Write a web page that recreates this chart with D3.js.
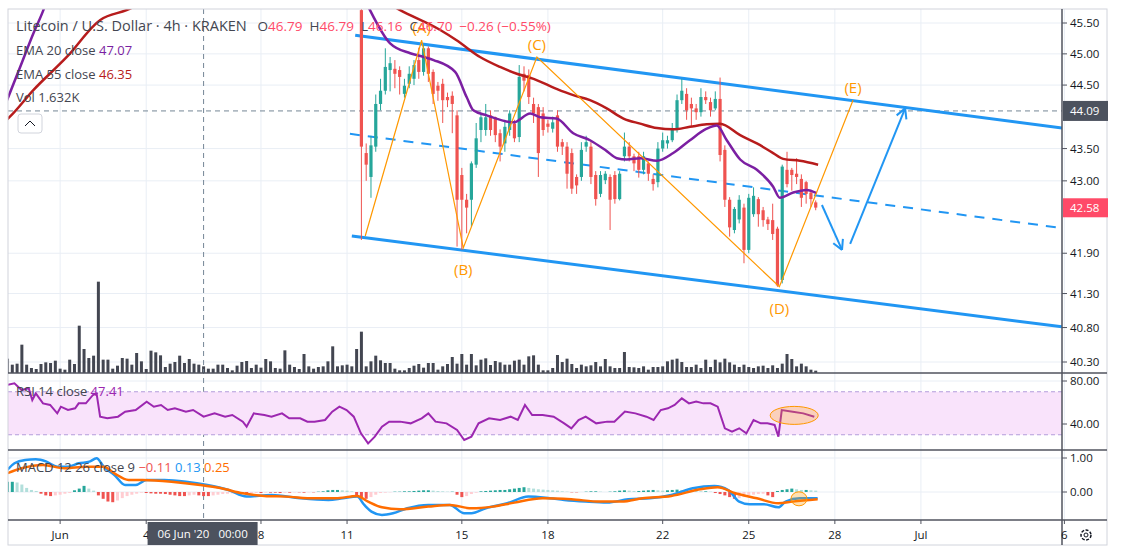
<!DOCTYPE html>
<html><head><meta charset="utf-8">
<script src="https://cdn.jsdelivr.net/npm/d3@7"></script>
<style>body{margin:0;background:#fff;font-family:"Open Sans","DejaVu Sans",sans-serif}</style>
</head><body><svg id="c" width="1121" height="558"></svg>
<script>
// ---- DATA (bar index = number of 4h bars since 1 Jun 2020 00:00) ----
const candleStart = 63;
const opens  = [45.71,43.43,43.06,43.53,44.20,44.41,44.74,44.76,44.74,44.36,44.52,44.60,44.90,44.71,45.09,44.71,44.49,44.52,44.31,44.33,44.02,43.09,42.71,42.71,43.25,43.79,43.79,44.02,43.99,43.74,43.58,43.79,43.89,43.68,44.68,44.66,44.20,44.15,44.05,43.89,43.81,44.02,43.60,43.53,43.43,43.06,43.06,43.53,43.53,43.09,42.80,43.01,43.06,43.09,42.72,43.38,43.53,43.38,43.38,43.17,43.27,43.03,42.98,43.50,43.58,43.63,43.79,44.26,44.36,44.20,44.13,44.07,44.31,44.23,44.13,44.28,43.48,42.71,42.25,42.41,42.59,41.95,42.49,42.72,42.55,42.41,42.40,42.27,41.50,43.17,43.17,43.11,43.03,42.98,42.82,42.67];
const highs  = [45.75,43.58,43.70,44.35,44.60,45.09,44.95,44.90,44.80,44.60,44.80,44.90,45.10,45.15,45.12,44.75,44.55,44.60,44.38,44.40,44.10,43.20,42.80,43.30,43.90,44.05,44.20,44.10,44.00,43.80,43.95,44.10,43.95,44.82,44.80,44.75,44.30,44.20,44.15,43.95,44.00,44.10,43.65,43.60,43.50,43.10,43.60,43.70,43.60,43.15,43.15,43.15,43.10,43.15,43.15,43.75,43.60,43.42,43.45,43.45,43.30,43.10,43.60,43.75,43.70,43.90,44.35,44.60,44.45,44.30,44.20,44.45,44.40,44.30,44.40,44.62,43.55,42.75,42.60,42.78,42.65,42.80,42.90,42.75,42.60,42.45,42.65,42.30,43.25,43.45,43.20,43.35,43.10,43.00,42.85,42.70];
const lows   = [42.10,43.00,42.74,43.45,44.10,44.35,44.40,44.45,44.35,44.30,44.45,44.50,44.60,44.65,44.55,44.20,44.25,43.90,44.15,43.74,42.00,41.95,42.20,42.30,43.20,43.60,43.70,43.70,43.60,43.30,43.45,43.70,43.60,43.60,44.40,44.20,43.90,43.06,43.70,43.75,43.75,43.45,43.40,42.88,42.80,42.80,43.00,43.45,42.95,42.62,42.75,42.95,42.25,42.65,42.70,43.30,43.30,43.15,43.05,43.10,43.00,42.85,42.90,43.45,43.50,43.60,43.75,44.20,43.95,43.85,43.95,44.00,44.20,44.00,44.10,43.30,42.60,42.15,42.20,42.35,41.75,41.90,42.45,42.30,42.30,42.25,42.10,41.40,41.45,42.90,42.85,42.95,42.60,42.65,42.60,42.55];
const closes = [43.53,43.25,43.55,44.20,44.41,44.79,44.85,44.68,44.63,44.49,44.68,44.82,44.71,45.09,44.68,44.36,44.41,44.26,44.26,44.20,42.71,42.71,42.59,43.27,43.66,43.99,43.99,43.79,43.71,43.53,43.84,44.05,43.66,44.63,44.57,44.31,44.05,43.43,43.79,43.84,43.91,43.53,43.53,43.11,42.88,42.93,43.48,43.60,43.06,42.72,43.09,43.11,42.71,42.72,43.11,43.53,43.38,43.27,43.17,43.38,43.11,42.95,43.50,43.63,43.63,43.79,44.26,44.41,44.10,44.13,44.07,44.31,44.26,44.10,44.28,43.40,42.71,42.29,42.57,42.71,41.95,42.74,42.77,42.49,42.40,42.34,42.19,41.42,43.22,42.95,43.09,43.06,42.74,42.80,42.72,42.59];
const ema20 = [[-11.1,44.26],[-8.4,44.78],[-5.6,45.33],[-3.5,45.71],[-1,46.3],[30,47.07],[60,46.6],[64.8,45.71],[69.0,45.17],[73.2,45.01],[76.0,44.95],[78.1,44.90],[82.6,44.71],[85.0,44.31],[86.4,44.10],[89.2,44.02],[94.8,43.91],[98.3,44.05],[100.4,43.99],[103.8,43.97],[107.3,43.74],[110.8,43.63],[114.3,43.46],[116.4,43.35],[118.5,43.33],[121.3,43.35],[124.8,43.31],[128.2,43.43],[131.7,43.63],[135.2,43.81],[137.3,43.86],[139.4,43.63],[142.2,43.33],[145.7,43.17],[149.1,42.91],[150.5,42.74],[153.3,42.82],[156.1,42.86],[158.2,42.81]];
const ema55 = [[-11.5,43.93],[-10.5,44.0],[-5.6,44.42],[1.4,44.95],[8.4,45.55],[13.9,45.71],[30,46.35],[55,46.5],[71.1,45.71],[79.4,45.39],[82.9,45.22],[87.8,44.95],[92,44.79],[95.5,44.68],[99,44.60],[103.8,44.44],[107.3,44.34],[110.8,44.26],[114.3,44.13],[117.8,43.97],[121.3,43.89],[124.8,43.82],[128.2,43.80],[131.7,43.84],[135.2,43.88],[138,43.89],[142.2,43.71],[145.7,43.58],[149.1,43.43],[151.2,43.34],[154.7,43.31],[158.5,43.25]];
const channelUpper = [[61.7,45.30],[209.5,43.82]];
const channelLower = [[61.0,42.16],[209.5,40.81]];
const channelMid   = [[60.6,43.73],[209.5,42.28]];
const wave = [["",63.8,42.16],["(A)",75.6,45.22],["(B)",84.3,41.98],["(C)",99.7,44.95],["(D)",150.4,41.40],["(E)",165.8,44.26]];
const arrowDown = [[159.3,42.63],[163.5,41.95]];
const arrowUp   = [[165.2,42.04],[176.7,44.13]];
const markedPrice = 44.09, lastPrice = 42.58;
const priceTicks = [45.5,45.0,44.5,43.5,43.0,41.9,41.3,40.8,40.3];
const volStart = -12;
const volumes = [90,43,25,28,85,25,15,12,27,32,30,37,13,10,40,27,142,72,45,52,274,40,40,13,22,45,43,25,60,35,12,67,62,53,18,28,33,52,30,42,28,25,20,13,13,25,25,15,8,22,33,36,15,25,16,42,35,15,13,68,25,18,12,57,20,13,18,20,35,80,20,23,25,20,72,124,20,35,52,38,30,30,13,8,8,15,22,27,16,30,30,10,20,27,48,28,57,25,57,23,40,44,24,36,32,25,25,37,40,25,50,53,25,8,8,15,54,33,43,27,15,25,20,23,33,20,42,20,15,15,63,18,17,15,20,10,18,18,20,35,40,43,33,18,18,25,15,40,18,40,32,43,32,25,18,25,18,15,20,22,15,23,15,28,57,42,20,28,20,10,7];
const rsi = [[-11.05,76.3],[-9.56,77.8],[-8.06,71.6],[-6.57,73.2],[-5.82,62.3],[-5.08,68.5],[-3.58,59.2],[-2.09,57.7],[-0.6,49.9],[0.15,56.1],[1.64,53.0],[3.14,54.6],[3.88,59.2],[5.38,59.2],[6.87,67.0],[7.62,68.5],[8.36,46.8],[9.86,45.3],[12.1,46.8],[13.6,51.5],[15.8,53.0],[18.1,60.8],[19.6,56.1],[21.1,57.7],[22.5,53.0],[24.0,54.6],[26.3,51.5],[27.8,53.0],[30.0,46.8],[32.3,49.9],[34.5,46.8],[36.0,48.4],[38.2,42.2],[39.0,37.5],[40.5,49.9],[42.7,48.4],[44.2,46.8],[46.4,49.9],[47.9,45.3],[50.2,45.3],[51.7,42.2],[53.2,42.2],[55.4,43.7],[56.9,51.5],[58.4,56.1],[59.9,53.0],[61.4,46.8],[62.9,31.3],[64.4,22.0],[65.8,28.2],[67.3,37.5],[68.8,42.2],[71.1,42.2],[73.3,40.6],[75.6,45.3],[77.0,49.9],[78.5,42.2],[80.8,40.6],[83.0,34.4],[84.5,25.1],[86.0,28.2],[87.5,40.6],[89.7,45.3],[92.0,43.7],[94.2,46.8],[95.7,43.7],[97.2,57.7],[98.7,48.4],[100.9,48.4],[103.2,46.8],[105.4,40.6],[106.9,36.0],[108.4,43.7],[109.9,46.8],[112.1,40.6],[114.4,42.2],[115.9,42.2],[118.1,51.5],[120.3,49.9],[122.6,46.8],[124.1,43.7],[125.6,53.0],[127.1,54.6],[128.5,57.7],[130.0,63.9],[131.5,59.2],[133.0,60.8],[134.5,59.2],[136.0,59.2],[137.5,56.1],[139.0,36.0],[140.5,32.9],[142.0,36.0],[143.5,31.3],[145.0,43.7],[146.5,40.6],[147.9,40.6],[149.4,39.1],[150.2,28.2],[150.9,53.0],[153.2,51.5],[155.4,49.9],[157.7,46.8]];
const macdLine = [[-11.05,0.648],[-9.55,0.844],[-7.3,0.942],[-5.08,0.962],[-2.84,0.893],[-0.6,0.746],[1.64,0.746],[3.88,0.844],[6.12,0.893],[7.62,0.991],[9.11,0.746],[11.35,0.501],[13.6,0.207],[15.8,0.207],[18.1,0.354],[21.8,0.354],[26.3,0.305],[30.8,0.207],[35.2,0.060],[39.0,-0.136],[44.2,-0.087],[50.2,-0.185],[56.1,-0.234],[59.1,-0.185],[62.1,-0.136],[63.6,-0.381],[65.1,-0.577],[67.3,-0.675],[69.6,-0.626],[72.6,-0.479],[77.0,-0.381],[81.5,-0.381],[84.5,-0.626],[86.0,-0.626],[89.0,-0.479],[93.5,-0.332],[97.9,-0.136],[102.4,-0.185],[105.4,-0.234],[109.9,-0.283],[114.4,-0.312],[118.8,-0.214],[123.3,-0.185],[127.8,-0.087],[132.3,0.109],[136.8,0.178],[139.7,0.060],[142.0,-0.283],[144.2,-0.361],[147.2,-0.361],[150.2,-0.450],[151.7,-0.283],[154.7,-0.185],[158.4,-0.185]];
const signalLine = [[-11.05,0.55],[-8.06,0.697],[-3.58,0.795],[0.9,0.697],[5.38,0.746],[9.11,0.746],[11.35,0.55],[14.3,0.354],[17.3,0.354],[23.3,0.305],[29.3,0.207],[33.7,0.109],[38.2,-0.038],[42.7,-0.116],[47.2,-0.136],[53.2,-0.185],[57.6,-0.185],[62.1,-0.116],[64.4,-0.283],[67.3,-0.450],[71.1,-0.508],[77.0,-0.430],[81.5,-0.381],[86.0,-0.479],[90.5,-0.430],[95.0,-0.312],[100.9,-0.185],[106.9,-0.214],[112.9,-0.283],[117.4,-0.283],[121.8,-0.185],[127.8,-0.116],[133.8,0.080],[137.5,0.139],[141.2,-0.038],[145.7,-0.185],[150.2,-0.332],[153.2,-0.283],[158.4,-0.214]];
const macdHist = [0.25,0.3,0.3,0.28,0.22,0.12,0.06,0.03,-0.05,-0.1,-0.12,-0.1,-0.08,-0.05,-0.03,0.05,0.1,0.18,0.1,0.04,-0.1,-0.2,-0.28,-0.3,-0.25,-0.18,-0.12,-0.08,-0.05,-0.02,-0.03,-0.04,-0.05,-0.05,-0.06,-0.08,-0.1,-0.12,-0.12,-0.1,-0.08,-0.1,-0.12,-0.12,-0.1,-0.08,-0.06,-0.05,-0.04,-0.03,-0.04,-0.05,-0.04,-0.03,-0.03,-0.02,-0.02,-0.02,-0.03,-0.02,-0.02,-0.01,-0.01,-0.02,-0.01,-0.01,0.01,0.02,0.05,0.06,0.06,0.05,0.04,0.02,-0.1,-0.2,-0.2,-0.15,-0.08,-0.03,-0.02,-0.01,0.01,0.01,0.02,0.02,0.03,0.04,0.05,0.05,0.04,0.03,0.02,0.01,0.01,-0.08,-0.15,-0.12,-0.06,-0.02,0.02,0.03,0.04,0.05,0.06,0.06,0.08,0.1,0.12,0.14,0.12,0.1,0.08,0.07,0.06,0.05,0.04,0.02,0.01,-0.01,-0.01,0.0,0.01,0.02,0.02,0.01,0.0,0.01,0.02,0.04,0.05,0.04,0.03,0.03,0.04,0.05,0.06,0.05,0.04,0.05,0.06,0.07,0.06,0.05,0.04,0.03,0.02,0.02,0.01,-0.03,-0.06,-0.1,-0.15,-0.2,-0.18,-0.15,-0.1,-0.08,-0.06,-0.05,-0.1,-0.15,0.03,0.06,0.08,0.1,0.08,0.06,0.06,0.05,0.04];
const dateTicks = [[0,"Jun"],[18,"4"],[42,"8"],[60,"11"],[84,"15"],[102,"18"],[126,"22"],[144,"25"],[162,"28"],[180,"Jul"],[210,"6"]];
const cursorIdx = 30, cursorLabel = "06 Jun '20   00:00";

// ---- DRAW ----
const svg = d3.select("#c");
const L = 8, R = 1062, W = R - L;
const x = d3.scaleLinear().domain([-10.9, 209.5]).range([L, R]);
const y = d3.scaleLog().domain([40.3, 45.5]).range([362, 23]);
const MP = {t:9,b:373}, RP = {t:373,b:450}, MC = {t:450,b:520};
const yr = d3.scaleLinear().domain([40, 80]).range([424, 381]);
const ym = d3.scaleLinear().domain([0, 1]).range([492, 458]);
const yv = d3.scaleLinear().domain([0, 300]).range([373, 273]);
const grid = "#e9eef5", txt = "#131722";
const defs = svg.append("defs");
[["cm",MP],["cr",RP],["cmc",MC]].forEach(([id,p]) => defs.append("clipPath").attr("id",id).append("rect").attr("x",L).attr("y",p.t).attr("width",W).attr("height",p.b-p.t));

const g = svg.append("g");
dateTicks.forEach(([i]) => g.append("line").attr("x1",x(i)).attr("x2",x(i)).attr("y1",MP.t).attr("y2",MC.b).attr("stroke",grid));
priceTicks.forEach(p => g.append("line").attr("x1",L).attr("x2",R).attr("y1",y(p)).attr("y2",y(p)).attr("stroke",grid));
[80,40].forEach(v => g.append("line").attr("x1",L).attr("x2",R).attr("y1",yr(v)).attr("y2",yr(v)).attr("stroke",grid));
[1,0].forEach(v => g.append("line").attr("x1",L).attr("x2",R).attr("y1",ym(v)).attr("y2",ym(v)).attr("stroke",grid));

const mg = svg.append("g").attr("clip-path","url(#cm)");
mg.selectAll(".v").data(volumes).join("rect").attr("x",(d,i)=>x(volStart+i)-1.5).attr("width",3).attr("y",d=>yv(d)).attr("height",d=>yv(0)-yv(d)).attr("fill","#434651");

svg.append("line").attr("x1",x(cursorIdx)).attr("x2",x(cursorIdx)).attr("y1",MP.t).attr("y2",MC.b).attr("stroke","#758696").attr("stroke-dasharray","5,4");
mg.append("line").attr("x1",L).attr("x2",R).attr("y1",y(markedPrice)).attr("y2",y(markedPrice)).attr("stroke","#758696").attr("stroke-dasharray","5,4");

const lineP = d3.line().x(d=>x(d[0])).y(d=>y(d[1]));
mg.append("path").attr("d",lineP(channelUpper)).attr("stroke","#2196f3").attr("stroke-width",3).attr("fill","none");
mg.append("path").attr("d",lineP(channelLower)).attr("stroke","#2196f3").attr("stroke-width",3).attr("fill","none");
mg.append("path").attr("d",lineP(channelMid)).attr("stroke","#2196f3").attr("stroke-width",2).attr("stroke-dasharray","10,8").attr("fill","none");

const cg = mg.append("g");
opens.forEach((o,i) => {
  const c = closes[i], col = c >= o ? "#26a69a" : "#ef5350", cx = x(candleStart+i);
  cg.append("line").attr("x1",cx).attr("x2",cx).attr("y1",y(highs[i])).attr("y2",y(lows[i])).attr("stroke",col);
  cg.append("rect").attr("x",cx-1.6).attr("width",3.2).attr("y",y(Math.max(o,c))).attr("height",Math.max(1,Math.abs(y(o)-y(c)))).attr("fill",col);
});

const smooth = d3.line().x(d=>x(d[0])).y(d=>y(d[1])).curve(d3.curveMonotoneX);
mg.append("path").attr("d",smooth(ema55)).attr("stroke","#b71c1c").attr("stroke-width",2.5).attr("fill","none");
mg.append("path").attr("d",smooth(ema20)).attr("stroke","#7b1fa2").attr("stroke-width",2.5).attr("fill","none");

const orange = "#ff9800";
mg.append("path").attr("d",lineP(wave.map(w=>[w[1],w[2]]))).attr("stroke",orange).attr("stroke-width",1.2).attr("fill","none");
wave.forEach(([lab,i,p],k) => { if(!lab) return;
  const up = k%2===1;
  mg.append("text").attr("x",x(i)).attr("y",up? y(p)-7 : y(p)+27).attr("text-anchor","middle").attr("fill",orange).attr("font-size",15).text(lab);
});
function arrow(pts){
  const [a,b] = pts, x1=x(a[0]),y1=y(a[1]),x2=x(b[0]),y2=y(b[1]);
  const ang = Math.atan2(y2-y1,x2-x1), hl=11;
  mg.append("line").attr("x1",x1).attr("y1",y1).attr("x2",x2).attr("y2",y2).attr("stroke","#2196f3").attr("stroke-width",2);
  [0.5,-0.5].forEach(s=>mg.append("line").attr("x1",x2).attr("y1",y2).attr("x2",x2-hl*Math.cos(ang+s)).attr("y2",y2-hl*Math.sin(ang+s)).attr("stroke","#2196f3").attr("stroke-width",2));
}
arrow(arrowDown); arrow(arrowUp);

const rg = svg.append("g").attr("clip-path","url(#cr)");
rg.append("rect").attr("x",L).attr("width",W).attr("y",yr(70)).attr("height",yr(30)-yr(70)).attr("fill","#f9e3fb");
[70,30].forEach(v=>rg.append("line").attr("x1",L).attr("x2",R).attr("y1",yr(v)).attr("y2",yr(v)).attr("stroke","#b39ddb").attr("stroke-dasharray","4,3"));
rg.append("path").attr("d",d3.line().x(d=>x(d[0])).y(d=>yr(d[1]))(rsi)).attr("stroke","#9c27b0").attr("stroke-width",2).attr("fill","none");
rg.append("ellipse").attr("cx",x(153.5)).attr("cy",yr(48)).attr("rx",24).attr("ry",9).attr("fill","rgba(255,152,0,0.25)").attr("stroke",orange);

const hg = svg.append("g").attr("clip-path","url(#cmc)");
hg.selectAll(".h").data(macdHist).join("rect").attr("x",(d,i)=>x(volStart+i)-1.5).attr("width",3)
  .attr("y",d=>ym(Math.max(0,d))).attr("height",d=>Math.abs(ym(d)-ym(0)))
  .attr("fill",(d,i)=>{const p=i?macdHist[i-1]:0; return d>=0?(d>=p?"#26a69a":"#b2dfdb"):(d<=p?"#ef5350":"#ffcdd2");});
const lm = d3.line().x(d=>x(d[0])).y(d=>ym(d[1])).curve(d3.curveMonotoneX);
hg.append("path").attr("d",lm(macdLine)).attr("stroke","#2196f3").attr("stroke-width",2.5).attr("fill","none");
hg.append("path").attr("d",lm(signalLine)).attr("stroke","#ff6d00").attr("stroke-width",2.5).attr("fill","none");
hg.append("ellipse").attr("cx",x(154.5)).attr("cy",ym(-0.2)).attr("rx",8).attr("ry",7).attr("fill","rgba(255,152,0,0.3)").attr("stroke",orange);

const fr = svg.append("g").attr("stroke","#50535e").attr("fill","none");
fr.append("rect").attr("x",L).attr("y",MP.t).attr("width",1107-L).attr("height",545-MP.t).attr("stroke","#d1d4dc");
[373,450,520].forEach(v=>fr.append("line").attr("x1",L).attr("x2",1107).attr("y1",v).attr("y2",v).attr("stroke-width",1.5));
fr.append("line").attr("x1",R).attr("x2",R).attr("y1",MP.t).attr("y2",545).attr("stroke-width",1.5);

const ax = svg.append("g").attr("font-size",11.5).attr("fill",txt);
const tk = (yy,label)=>{ax.append("line").attr("x1",R).attr("x2",R+5).attr("y1",yy).attr("y2",yy).attr("stroke","#50535e");
  ax.append("text").attr("x",R+8).attr("y",yy+4).text(label);};
priceTicks.forEach(p=>tk(y(p),p.toFixed(2)));
[80,40].forEach(v=>tk(yr(v),v.toFixed(2)));
[1,0].forEach(v=>tk(ym(v),v.toFixed(2)));
ax.append("rect").attr("x",R+1).attr("y",y(markedPrice)-10).attr("width",45).attr("height",20).attr("fill","#4c525e");
ax.append("text").attr("x",R+8).attr("y",y(markedPrice)+4).attr("fill","#fff").text(markedPrice.toFixed(2));
ax.append("rect").attr("x",R+1).attr("y",y(lastPrice)-10).attr("width",45).attr("height",19).attr("fill","#ff4a68");
ax.append("text").attr("x",R+8).attr("y",y(lastPrice)+4).attr("fill","#fff").text(lastPrice.toFixed(2));
dateTicks.forEach(([i,l])=>{ax.append("line").attr("x1",x(i)).attr("x2",x(i)).attr("y1",520).attr("y2",524).attr("stroke","#50535e");
  ax.append("text").attr("x",x(i)).attr("y",539).attr("text-anchor","middle").text(l);});
ax.append("rect").attr("x",x(cursorIdx)-56).attr("y",522).attr("width",110).attr("height",23).attr("fill","#4c525e");
ax.append("text").attr("x",x(cursorIdx)-1).attr("y",538).attr("text-anchor","middle").attr("fill","#fff").attr("xml:space","preserve").text(cursorLabel);
const gx=1086, gy=535;
ax.append("circle").attr("cx",gx).attr("cy",gy).attr("r",5).attr("fill","none").attr("stroke",txt).attr("stroke-width",1.5).attr("stroke-dasharray","3,1.5");
ax.append("circle").attr("cx",gx).attr("cy",gy).attr("r",2).attr("fill","none").attr("stroke",txt);

const lg = svg.append("g");
const t1 = lg.append("text").attr("x",16).attr("y",31).attr("font-size",14.5).attr("fill","#434651");
t1.append("tspan").text("Litecoin / U.S. Dollar · 4h · KRAKEN  ");
[["O","46.79"],["H","46.79"],["L","46.16"],["C","46.70"]].forEach(([k,v])=>{t1.append("tspan").attr("dx",7).attr("font-size",13.5).text(k);t1.append("tspan").attr("font-size",13.5).attr("fill","#ff4a68").text(v);});
t1.append("tspan").attr("dx",7).attr("font-size",13.5).attr("fill","#ff4a68").text("−0.26 (−0.55%)");
const leg = [["EMA 20 close","47.07","#7b1fa2",55],["EMA 55 close","46.35","#b71c1c",79],["Vol","1.632K","#434651",102]];
leg.forEach(([a,b,c,yy])=>{const t=lg.append("text").attr("x",16).attr("y",yy).attr("font-size",13).attr("fill","#434651");t.append("tspan").text(a+"  ");t.append("tspan").attr("fill",c).text(b);});
lg.append("rect").attr("x",18).attr("y",114).attr("width",24).attr("height",19).attr("rx",3).attr("fill","#fff").attr("stroke","#d1d4dc");
lg.append("path").attr("d","M25,126 L30,121 L35,126").attr("stroke","#131722").attr("fill","none");
const l2 = svg.append("g").attr("font-size",13);
const r1 = l2.append("text").attr("x",16).attr("y",396).attr("fill","#434651"); r1.append("tspan").text("RSI 14 close  "); r1.append("tspan").attr("fill","#9c27b0").text("47.41");
const m1 = l2.append("text").attr("x",16).attr("y",472).attr("fill","#434651"); m1.append("tspan").text("MACD 12 26 close 9  ");
m1.append("tspan").attr("fill","#ef5350").text("−0.11 "); m1.append("tspan").attr("fill","#2196f3").text(" 0.13 "); m1.append("tspan").attr("fill","#ff6d00").text(" 0.25");
</script></body></html>
